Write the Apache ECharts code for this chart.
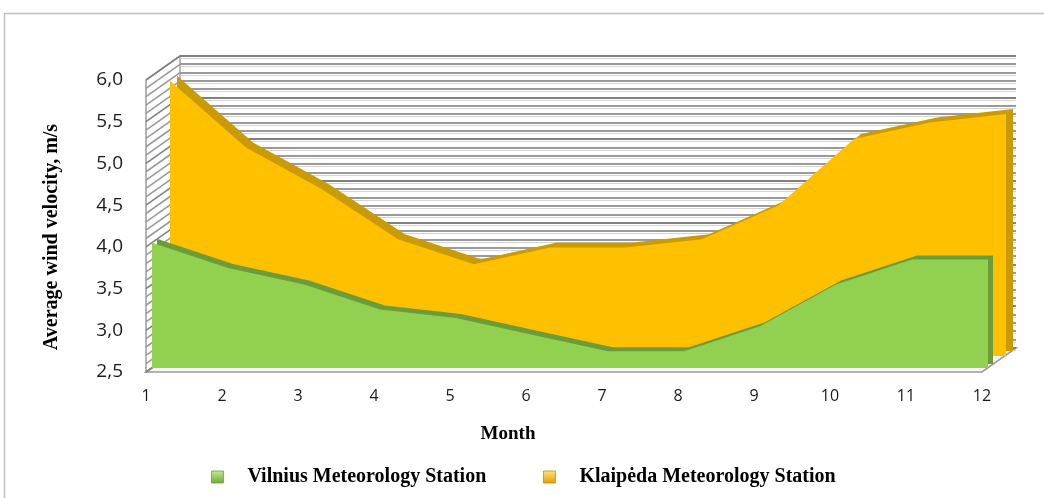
<!DOCTYPE html>
<html>
<head>
<meta charset="utf-8">
<script src="https://cdn.jsdelivr.net/npm/echarts@6/dist/echarts.min.js"></script>
<style>
  html, body { margin: 0; padding: 0; background: #ffffff; }
  #chart { width: 1044px; height: 498px; }
</style>
</head>
<body>
<div id="chart"></div>
<script>
// Monthly average wind velocity (m/s) at two Lithuanian stations
const months = ['1', '2', '3', '4', '5', '6', '7', '8', '9', '10', '11', '12'];
const vilnius = [4.0, 3.7, 3.5, 3.2, 3.1, 2.9, 2.7, 2.7, 3.0, 3.5, 3.8, 3.8];
const klaipeda = [5.8, 5.0, 4.5, 3.9, 3.6, 3.8, 3.8, 3.9, 4.3, 5.1, 5.3, 5.4];
const seriesNames = ['Vilnius Meteorology Station', 'Klaipėda Meteorology Station'];
const Y_MIN = 2.5, Y_MAX = 6.0, Y_STEP = 0.5, Y_MINOR = 0.1;

// Pseudo-3D layout: every plane is the front plane shifted back by a depth offset
const FRONT = { left: 146, top: 80, width: 836, height: 292 };
const WALL_DEPTH = [34, -24];
const planes = [
  [0, 0],        // 0 front: tick labels, walls, floor
  [31, -21],     // 1 Klaipėda extrusion
  [24, -16],     // 2 Klaipėda front face
  [11, -8],      // 3 Vilnius extrusion
  [6, -4]        // 4 Vilnius front face
];

const grids = planes.map(([dx, dy]) => ({
  left: FRONT.left + dx, top: FRONT.top + dy,
  width: FRONT.width, height: FRONT.height, containLabel: false
}));

const xAxes = planes.map((p, i) => ({
  type: 'category', gridIndex: i, data: months, boundaryGap: false,
  show: i === 0,
  axisLine: { show: false }, axisTick: { show: false }, splitLine: { show: false },
  axisLabel: { margin: 16, fontSize: 16, color: '#1a1a1a', fontFamily: 'Open Sans' }
}));

const yAxes = planes.map((p, i) => ({
  type: 'value', gridIndex: i, min: Y_MIN, max: Y_MAX, interval: Y_STEP,
  show: i === 0,
  axisLine: { show: false }, axisTick: { show: false },
  axisLabel: {
    show: i === 0, margin: 23, fontSize: 19, color: '#1a1a1a', fontFamily: 'Open Sans',
    formatter: v => v.toFixed(1).replace('.', ',')
  },
  splitLine: { show: false }
}));

// Back wall gridlines, hatched side wall and floor slab, built from the front axes
function renderWalls(params, api) {
  const [dx, dy] = WALL_DEPTH;
  const last = months.length - 1;
  const fl = api.coord([0, Y_MIN]).slice();
  const fr = api.coord([last, Y_MIN]).slice();
  const tl = api.coord([0, Y_MAX]).slice();
  const back = p => [p[0] + dx, p[1] + dy];
  const children = [];
  children.push({
    type: 'polygon',
    shape: { points: [fl, fr, back(fr), back(fl)] },
    style: { fill: '#f6f6f6', stroke: '#9c9c9c', lineWidth: 1.6 }
  });
  children.push({
    type: 'polygon',
    shape: { points: [fl, tl, back(tl), back(fl)] },
    style: { fill: '#ffffff', stroke: '#8e8e8e', lineWidth: 1.3 }
  });
  const steps = Math.round((Y_MAX - Y_MIN) / Y_MINOR);
  for (let k = 0; k <= steps; k++) {
    const v = Y_MIN + k * Y_MINOR;
    const p = api.coord([0, v]).slice();
    const q = api.coord([last, v]).slice();
    const major = k % 5 === 0;
    const col = major ? '#808080' : '#9a9a9a';
    const y = Math.round(p[1] + dy);
    // hatch on the side wall
    children.push({
      type: 'line',
      shape: { x1: p[0], y1: p[1], x2: p[0] + dx, y2: p[1] + dy },
      style: { stroke: col, lineWidth: 1.6 }
    });
    // back wall gridline with its soft shadow
    children.push({
      type: 'line',
      shape: { x1: p[0] + dx, y1: y + 2.5, x2: q[0] + dx, y2: y + 2.5 },
      style: { stroke: '#d4d4d4', lineWidth: 1 }
    });
    children.push({
      type: 'line',
      shape: { x1: p[0] + dx, y1: y, x2: q[0] + dx, y2: y },
      style: { stroke: col, lineWidth: 2 }
    });
  }
  return { type: 'group', children };
}

function areaSeries(name, data, gridIdx, color, z) {
  return {
    name, type: 'line', data, xAxisIndex: gridIdx, yAxisIndex: gridIdx,
    z, silent: true, showSymbol: false, symbol: 'none',
    lineStyle: { width: 0, color },
    itemStyle: { color },
    areaStyle: { color, opacity: 1, origin: 'start' },
    animation: false
  };
}

const legendText = { fontFamily: 'Liberation Serif', fontWeight: 'bold', fontSize: 20, color: '#000', padding: [0, 0, 0, 19] };

const chart = echarts.init(document.getElementById('chart'), null, { renderer: 'canvas' });
chart.setOption({
  animation: false,
  backgroundColor: '#ffffff',
  grid: grids,
  xAxis: xAxes,
  yAxis: yAxes,
  legend: [
    {
      left: 206, top: 462, itemWidth: 12, itemHeight: 12, selectedMode: false,
      data: [{ name: seriesNames[0], icon: 'rect', itemStyle: {
        color: new echarts.graphic.LinearGradient(0, 0, 0, 1, [
          { offset: 0, color: '#c6ea94' }, { offset: 1, color: '#6eaa30' }]),
        borderColor: '#6a9a3a', borderWidth: 0.8 } }],
      textStyle: legendText
    },
    {
      left: 538, top: 462, itemWidth: 12, itemHeight: 12, selectedMode: false,
      data: [{ name: seriesNames[1], icon: 'rect', itemStyle: {
        color: new echarts.graphic.LinearGradient(0, 0, 0, 1, [
          { offset: 0, color: '#ffe488' }, { offset: 1, color: '#e09e00' }]),
        borderColor: '#c08a00', borderWidth: 0.8 } }],
      textStyle: legendText
    }
  ],
  series: [
    {
      type: 'custom', xAxisIndex: 0, yAxisIndex: 0, z: 1, silent: true, clip: false,
      data: [[0, Y_MIN]], renderItem: renderWalls
    },
    areaSeries(seriesNames[0], vilnius, 4, '#92d050', 6),
    areaSeries(seriesNames[1], klaipeda, 2, '#ffc000', 4),
    areaSeries(seriesNames[0], vilnius, 3, '#6c9c3a', 5),
    areaSeries(seriesNames[1], klaipeda, 1, '#c99b06', 3)
  ],
  graphic: [
    {
      type: 'rect', silent: true, z: -10,
      shape: { x: 4.5, y: 13.5, width: 1200, height: 600 },
      style: { fill: 'none', stroke: '#bfbfbf', lineWidth: 1.5 }
    },
    {
      type: 'text', x: 52, y: 237, rotation: Math.PI / 2, silent: true,
      style: { text: 'Average wind velocity, m/s', font: 'bold 20px "Liberation Serif"',
        fill: '#000', align: 'center', verticalAlign: 'middle' }
    },
    {
      type: 'text', x: 508, y: 434, silent: true,
      style: { text: 'Month', font: 'bold 19px "Liberation Serif"',
        fill: '#000', align: 'center', verticalAlign: 'middle' }
    }
  ]
});
</script>
</body>
</html>
